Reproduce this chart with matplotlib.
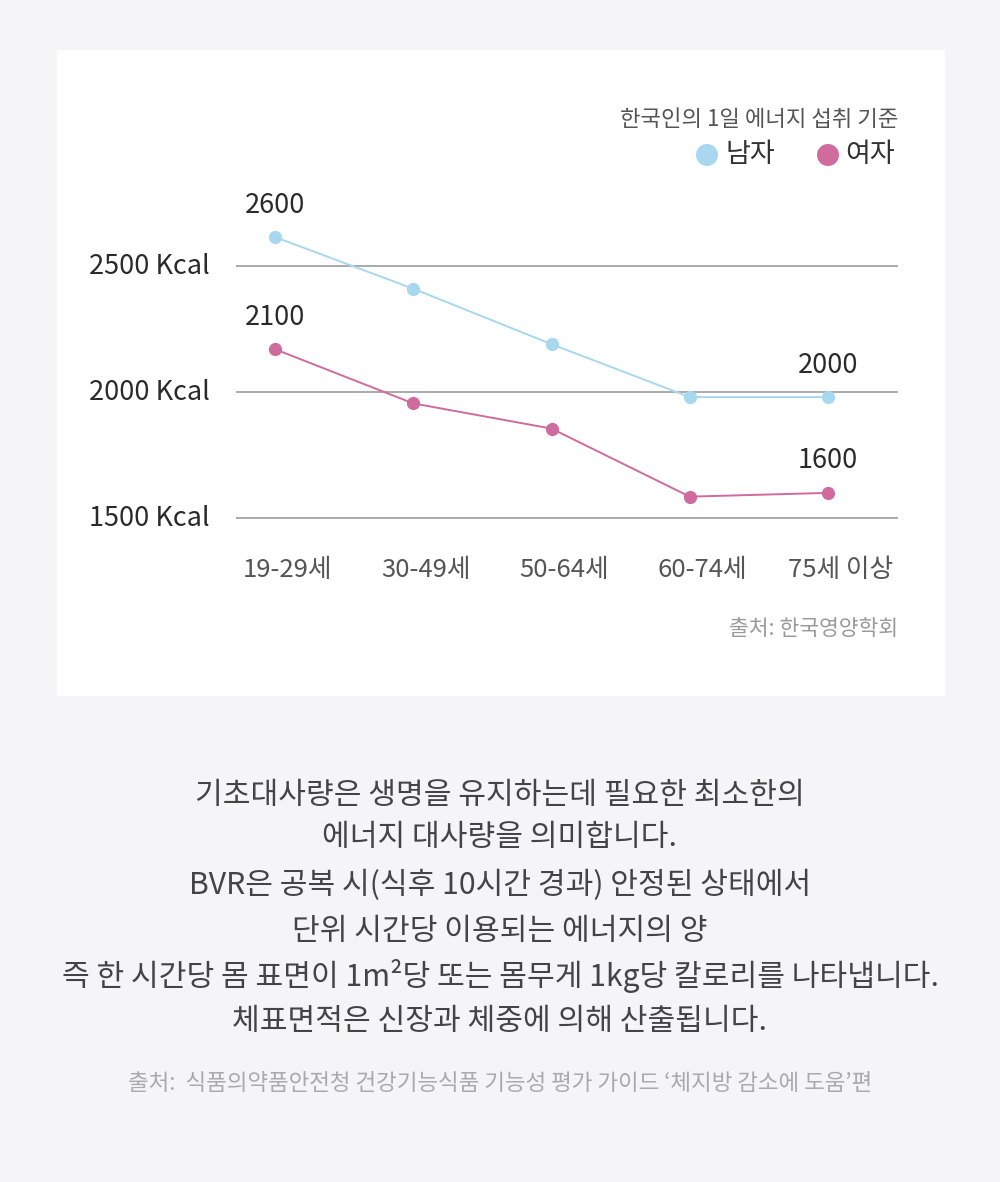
import matplotlib
matplotlib.use("Agg")
from matplotlib import pyplot as plt
from matplotlib.patches import Rectangle, Ellipse
import matplotlib.transforms as mtransforms

plt.rcParams['font.family'] = ['Noto Sans CJK KR', 'DejaVu Sans']

ages = ["19-29세", "30-49세", "50-64세", "60-74세", "75세 이상"]
male = [2615, 2410, 2190, 1980, 1980]
female = [2170, 1955, 1855, 1585, 1600]
male_labels = {0: "2600", 4: "2000"}
female_labels = {0: "2100", 4: "1600"}
yticks = [1500, 2000, 2500]
ytick_labels = ["1500 Kcal", "2000 Kcal", "2500 Kcal"]

blue = "#a7d8ef"
pink = "#d06b9e"

W, H = 1000, 1182
fig = plt.figure(figsize=(W / 100, H / 100), dpi=100)
fig.patch.set_facecolor("#f5f5f7")

# white card
fig.patches.append(Rectangle((57 / W, 1 - 696 / H), 888 / W, 646 / H,
                             transform=fig.transFigure, facecolor="white",
                             edgecolor="none", zorder=-1))

# axes: x 236..898 px, y 200..540 px
ax = fig.add_axes([236 / W, 1 - 540 / H, 662 / W, 340 / H], zorder=2)
ax.set_facecolor("none")
xs = list(range(len(ages)))
ax.set_xlim(-0.282, 4.506)
ax.set_ylim(1413, 2762)
for s in ax.spines.values():
    s.set_visible(False)
ax.set_xticks([])
ax.set_yticks([])

for yv in yticks:
    ax.axhline(yv, color="#aaaaaa", lw=1.4, zorder=1)

ax.plot(xs, male, color=blue, lw=1.4, marker="o", ms=8.5, zorder=3)
ax.plot(xs, female, color=pink, lw=1.4, marker="o", ms=8.5, zorder=3)

up = mtransforms.offset_copy(ax.transData, fig=fig, x=0, y=32 * 0.72, units="points")
for i, t in male_labels.items():
    ax.text(xs[i], male[i], t, transform=up, ha="center", va="center",
            fontsize=19.5, color="#2a2a2a")
for i, t in female_labels.items():
    ax.text(xs[i], female[i], t, transform=up, ha="center", va="center",
            fontsize=19.5, color="#2a2a2a")

# y labels
for yv, lab in zip(yticks, ytick_labels):
    ax.text(-0.282 - 26 / 138.25, yv, lab, ha="right", va="center",
            fontsize=19.5, color="#2a2a2a", clip_on=False)

# x labels
for i, lab in enumerate(ages):
    ax.text(xs[i] + 0.09, 1413 - 30 * 1349 / 340, lab, ha="center", va="center",
            fontsize=18.5, color="#555555", clip_on=False)

# legend
fig.text(898 / W, 1 - 120 / H, "한국인의 1일 에너지 섭취 기준", ha="right", va="center",
         fontsize=16, color="#555555")
fig.patches.append(Ellipse((707 / W, 1 - 155 / H), 22 / W, 22 / H, transform=fig.transFigure,
                           facecolor=blue, edgecolor="none"))
fig.patches.append(Ellipse((828 / W, 1 - 155 / H), 22 / W, 22 / H, transform=fig.transFigure,
                           facecolor=pink, edgecolor="none"))
fig.text(726 / W, 1 - 155 / H, "남자", ha="left", va="center", fontsize=19.5, color="#333333")
fig.text(845 / W, 1 - 155 / H, "여자", ha="left", va="center", fontsize=19.5, color="#333333")

fig.text(898 / W, 1 - 629 / H, "출처: 한국영양학회", ha="right", va="center",
         fontsize=15.5, color="#999999")

lines = [
    "기초대사량은 생명을 유지하는데 필요한 최소한의",
    "에너지 대사량을 의미합니다.",
    "BVR은 공복 시(식후 10시간 경과) 안정된 상태에서",
    "단위 시간당 이용되는 에너지의 양",
    "즉 한 시간당 몸 표면이 1m²당 또는 몸무게 1kg당 칼로리를 나타냅니다.",
    "체표면적은 신장과 체중에 의해 산출됩니다.",
]
ys = [795, 838, 885, 931, 976, 1021]
for t, yy in zip(lines, ys):
    fig.text(0.5, 1 - yy / H, t, ha="center", va="center", fontsize=21.7, color="#444444")

fig.text(0.5, 1 - 1083 / H, "출처:  식품의약품안전청 건강기능식품 기능성 평가 가이드 ‘체지방 감소에 도움’편",
         ha="center", va="center", fontsize=16.2, color="#aaaaaa")

fig.savefig("out.png", dpi=100, facecolor=fig.get_facecolor())
